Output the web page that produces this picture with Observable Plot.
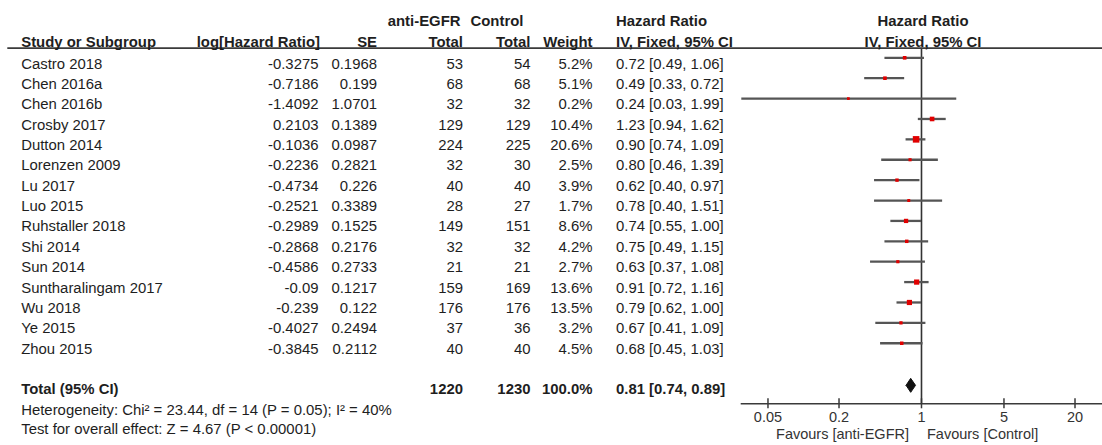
<!DOCTYPE html>
<html><head><meta charset="utf-8">
<script src="https://cdn.jsdelivr.net/npm/d3@7"></script>
<script src="https://cdn.jsdelivr.net/npm/@observablehq/plot@0.6"></script>
<style>
html,body{margin:0;padding:0;background:#fff;}
#chart{position:relative;width:1102px;height:445px;overflow:hidden;background:#fff;}
#chart svg{position:absolute;left:0;top:0;}
</style></head><body><div id="chart"></div>
<script>
// ---------- data ----------
const studies = ["Castro 2018","Chen 2016a","Chen 2016b","Crosby 2017","Dutton 2014","Lorenzen 2009","Lu 2017","Luo 2015","Ruhstaller 2018","Shi 2014","Sun 2014","Suntharalingam 2017","Wu 2018","Ye 2015","Zhou 2015"];
const logHR = [-0.3275,-0.7186,-1.4092,0.2103,-0.1036,-0.2236,-0.4734,-0.2521,-0.2989,-0.2868,-0.4586,-0.09,-0.239,-0.4027,-0.3845];
const seVals = [0.1968,0.199,1.0701,0.1389,0.0987,0.2821,0.226,0.3389,0.1525,0.2176,0.2733,0.1217,0.122,0.2494,0.2112];
const expTotal = [53,68,32,129,224,32,40,28,149,32,21,159,176,37,40];
const ctrlTotal = [54,68,32,129,225,30,40,27,151,32,21,169,176,36,40];
const weights = [5.2,5.1,0.2,10.4,20.6,2.5,3.9,1.7,8.6,4.2,2.7,13.6,13.5,3.2,4.5];
const hrVals = [0.72,0.49,0.24,1.23,0.90,0.80,0.62,0.78,0.74,0.75,0.63,0.91,0.79,0.67,0.68];
const ciLow = [0.49,0.33,0.03,0.94,0.74,0.46,0.40,0.40,0.55,0.49,0.37,0.72,0.62,0.41,0.45];
const ciHigh = [1.06,0.72,1.99,1.62,1.09,1.39,0.97,1.51,1.00,1.15,1.08,1.16,1.00,1.09,1.03];
const totalLabel = "Total (95% CI)";
const totalExp = 1220, totalCtrl = 1230, totalWeight = 100.0;
const pooledHR = 0.81, pooledLow = 0.74, pooledHigh = 0.89;
const footerLines = ["Heterogeneity: Chi² = 23.44, df = 14 (P = 0.05); I² = 40%","Test for overall effect: Z = 4.67 (P < 0.00001)"];
const groupHeaders = ["anti-EGFR","Control","Hazard Ratio"];
const colHeaders = ["Study or Subgroup","log[Hazard Ratio]","SE","Total","Total","Weight","IV, Fixed, 95% CI"];
const forestHeaders = ["Hazard Ratio","IV, Fixed, 95% CI"];
const axisTicks = [0.05,0.2,1,5,20];
const favourLabels = ["Favours [anti-EGFR]","Favours [Control]"];

// ---------- layout ----------
const W = 1102, H = 445;
const FONT = "'Liberation Sans', Arial, Helvetica, sans-serif";
const TXT = "#1e1e1e";
const ROW0 = 63.3, PITCH = 20.36;            // table rows (pixel centre of first row, row pitch)
const toRow = px => (px - ROW0) / PITCH;
const col = {study:20.7, logHR:318, se:376.5, exp:462.5, ctrl:530, weight:592, hr:615.5};
const fmt2 = v => v.toFixed(2);
const hrText = (h,l,u) => `${fmt2(h)} [${fmt2(l)}, ${fmt2(u)}]`;

const rows = studies.map((s,i)=>({i, study:s, logHR:logHR[i], se:seVals[i], exp:expTotal[i], ctrl:ctrlTotal[i],
  weight:weights[i], hr:hrVals[i], lo:ciLow[i], hi:ciHigh[i]}));
const totalRow = 16;

const colSpec = [
  {text:colHeaders[0], x:col.study, a:"start"},
  {text:colHeaders[1], x:col.logHR+1.5, a:"end"},
  {text:colHeaders[2], x:col.se, a:"end"},
  {text:colHeaders[3], x:col.exp, a:"end"},
  {text:colHeaders[4], x:col.ctrl, a:"end"},
  {text:colHeaders[5], x:col.weight, a:"end"},
  {text:colHeaders[6], x:col.hr, a:"start"},
  {text:forestHeaders[1], x:922.5, a:"middle"}
];
const groupSpec = [
  {text:groupHeaders[0], x:460, a:"end"},
  {text:groupHeaders[1], x:470, a:"start"},
  {text:groupHeaders[2], x:col.hr, a:"start"},
  {text:forestHeaders[0], x:922.5, a:"middle"}
];
const totalItems = [
  {x:col.study, a:"start", t: totalLabel},
  {x:col.exp, a:"end", t: String(totalExp)},
  {x:col.ctrl, a:"end", t: String(totalCtrl)},
  {x:col.weight, a:"end", t: totalWeight.toFixed(1) + "%"},
  {x:col.hr, a:"start", t: hrText(pooledHR, pooledLow, pooledHigh)}
];

const base = {fill: TXT, fontSize: 14.9};
const colText = (key, x, anchor, fmt) => Plot.text(rows, {...base, x, y:"i", text: d => fmt ? fmt(d) : String(d[key]), textAnchor: anchor});

const table = Plot.plot({
  width: W, height: H, margin: 0,
  x: {type:"linear", domain:[0, W], range:[0, W], axis:null},
  y: {type:"linear", domain:[0, 18], range:[ROW0, ROW0 + 18*PITCH], axis:null},
  style: {fontFamily: FONT, fontSize: "14.9px", color: TXT, background: "transparent"},
  marks: [
    Plot.ruleY([toRow(47.7)], {x1: 7.3, x2: W, stroke: "#3a3a3a", strokeWidth: 1.7}),
    ...groupSpec.map(c => Plot.text([c], {...base, x:"x", y: () => toRow(20.7), text:"text", textAnchor:c.a, fontWeight:"bold"})),
    ...colSpec.map(c => Plot.text([c], {...base, x:"x", y: () => toRow(41.7), text:"text", textAnchor:c.a, fontWeight:"bold"})),
    colText("study", col.study, "start"),
    colText("logHR", col.logHR, "end"),
    colText("se", col.se, "end"),
    colText("exp", col.exp, "end"),
    colText("ctrl", col.ctrl, "end"),
    colText("weight", col.weight, "end", d => d.weight.toFixed(1) + "%"),
    colText("hr", col.hr, "start", d => hrText(d.hr, d.lo, d.hi)),
    ...totalItems.map(o => Plot.text([o], {...base, x:"x", y: () => totalRow, text:"t", textAnchor:o.a, fontWeight:"bold"})),
    Plot.text(footerLines.map((t,k) => ({t, y: totalRow + 1 + k*0.95})), {...base, x: col.study, y:"y", text:"t", textAnchor:"start"})
  ]
});

// ---------- forest plot ----------
const FROW0 = 57.3, FPITCH = 20.39;
const frameTop = 47.7, axisY = 403.3;
const frameH = axisY - frameTop;
const diamondHalf = 7 / FPITCH;
const diamondRow = totalRow + 1.3 / FPITCH;
const diamond = [
  {x: pooledLow, y: diamondRow}, {x: pooledHR, y: diamondRow - diamondHalf},
  {x: pooledHigh, y: diamondRow}, {x: pooledHR, y: diamondRow + diamondHalf}, {x: pooledLow, y: diamondRow}
];
const forest = Plot.plot({
  width: W, height: H,
  marginLeft: 740.7, marginRight: 0, marginTop: frameTop, marginBottom: H - axisY,
  x: {type:"log", domain:[0.02965, 34.2], axis:null},
  y: {type:"linear", domain:[0, 16], range:[FROW0, FROW0 + 16*FPITCH], axis:null},
  r: {type:"linear", domain:[0, 20.6], range:[1.5, 3.7]},
  style: {fontFamily: FONT, fontSize: "14.5px", color: TXT, background: "transparent"},
  marks: [
    Plot.ruleY([(axisY - FROW0) / FPITCH], {stroke:"#3a3a3a", strokeWidth:1.6}),
    Plot.ruleX(axisTicks, {x: d => d, insetTop: frameH - 5, insetBottom: -5, stroke:"#3a3a3a", strokeWidth:1.5}),
    Plot.ruleX([1], {stroke:"#333", strokeWidth:1.6}),
    Plot.ruleY(rows, {y:"i", x1:"lo", x2:"hi", stroke:"#555", strokeWidth:2.3}),
    Plot.dot(rows, {x:"hr", y:"i", r:"weight", symbol:"square", fill:"#e00000", stroke:"none"}),
    Plot.line(diamond, {x:"x", y:"y", fill:"#111", stroke:"#111", strokeWidth:1}),
    Plot.text(axisTicks, {x: d => d, frameAnchor:"bottom", dy: 17.7, text: d => String(d), fill:"#333", fontSize:14.5}),
    Plot.text([favourLabels[0]], {x: () => 1, frameAnchor:"bottom", dy: 34.8, dx: -12.5, text: d => d, textAnchor:"end", fill:"#333", fontSize:14.5}),
    Plot.text([favourLabels[1]], {x: () => 1, frameAnchor:"bottom", dy: 34.8, dx: 5.5, text: d => d, textAnchor:"start", fill:"#333", fontSize:14.5})
  ]
});

const chart = document.getElementById("chart");
chart.appendChild(forest);
chart.appendChild(table);
</script>
</body></html>
